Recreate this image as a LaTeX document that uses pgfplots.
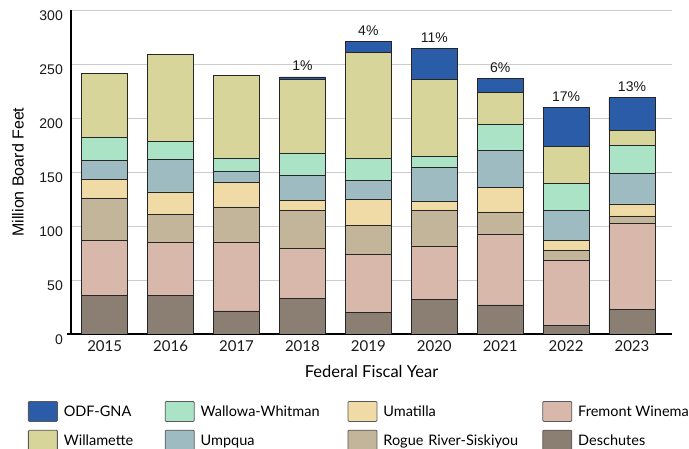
\documentclass[border=0pt]{standalone}
\usepackage{pgfplots}
\pgfplotsset{compat=1.18}
\usepackage{pgfplotstable}
\usepackage{fontspec}
\setmainfont{Lato}
\newfontfamily\arialfont{Liberation Sans}
\definecolor{cODF}{HTML}{2A5CA8}
\definecolor{cWil}{HTML}{D8D59B}
\definecolor{cWal}{HTML}{ABE3C7}
\definecolor{cUmp}{HTML}{9EBBC2}
\definecolor{cUma}{HTML}{F0DBA6}
\definecolor{cRog}{HTML}{C2B59A}
\definecolor{cFre}{HTML}{D9B8AC}
\definecolor{cDes}{HTML}{8B7E73}
\pgfplotstableread{
x des fre rog uma ump wal wil
0 35.8 51.2 39.0 17.0 18.0 21.0 59.0
1 35.5 49.7 25.6 20.7 30.2 17.0 79.9
2 21.3 63.9 32.4 22.5 10.5 12.4 76.5
3 33.0 46.6 34.6 9.6 23.4 20.1 68.5
4 20.0 53.8 27.1 23.5 17.9 20.0 98.5
5 31.8 49.7 32.7 8.9 30.9 10.8 70.7
6 26.9 65.7 20.4 22.5 34.5 23.8 30.0
7 8.0 60.2 9.3 8.9 28.1 25.3 33.7
8 22.8 79.4 7.1 11.1 28.1 25.9 14.2
}\datatable
\begin{document}
\begin{tikzpicture}
\begin{axis}[
  at={(71bp,115bp)}, anchor=south west,
  scale only axis, width=601bp, height=324bp,
  xmin=-0.511, xmax=8.607, ymin=0, ymax=300,
  ybar stacked, bar width=0.698,
  /pgf/number format/assume math mode=true,
  xtick={0,1,2,3,4,5,6,7,8},
  xticklabels={2015,2016,2017,2018,2019,2020,2021,2022,2023},
  ytick={0,50,...,300},
  major tick length=0pt,
  axis x line*=bottom, axis y line*=left,
  axis line style={black, line width=1.2bp, -},
  x axis line style={shorten <=-4bp},
  ymajorgrids, grid style={black!20, line width=0.8bp},
  xticklabel style={font=\fontsize{15bp}{18bp}\selectfont, inner sep=0pt, anchor=north, yshift=-6.5bp, text=black!90},
  yticklabel style={font=\arialfont\fontsize{14bp}{16bp}\selectfont, inner sep=0pt, anchor=east, xshift=-8bp, yshift=-5.4bp, text=black!90},
  xlabel={Federal Fiscal Year},
  xlabel style={at={(axis description cs:0.5,0)}, anchor=base, yshift=-43.3bp, font=\fontsize{16.5bp}{19bp}\selectfont, inner sep=0pt},
  ylabel={Million Board Feet},
  ylabel style={at={(axis description cs:-0.079,0.5)}, anchor=base, rotate=0, font=\arialfont\fontsize{16bp}{19bp}\selectfont, inner sep=0pt},
  every axis plot/.append style={draw=black!85, line width=0.8bp},
  legend image code/.code={\draw[#1, draw=black!65, line width=0.8bp, rounded corners=1bp] (0bp,-5bp) rectangle (29bp,15bp);},
  legend columns=4,
  legend style={
    at={(axis description cs:-0.07155,-0.2068)}, anchor=north west,
    draw=none, fill=none, inner sep=0pt, outer sep=0pt,
    column sep=0pt, row sep=8bp,
    nodes={inner sep=0pt, text depth=0pt, anchor=base west, font=\fontsize{14.5bp}{17bp}\selectfont},
    cells={anchor=base west},
    /tikz/every odd column/.append style={column sep=6bp},
    /tikz/column 2/.style={nodes={text width=101bp}},
    /tikz/column 4/.style={nodes={text width=147bp}},
    /tikz/column 6/.style={nodes={text width=159bp}},
  },
]
\addplot[fill=cDes, forget plot] table[x=x,y=des]{\datatable};
\addplot[fill=cFre, forget plot] table[x=x,y=fre]{\datatable};
\addplot[fill=cRog, forget plot] table[x=x,y=rog]{\datatable};
\addplot[fill=cUma, forget plot] table[x=x,y=uma]{\datatable};
\addplot[fill=cUmp, forget plot] table[x=x,y=ump]{\datatable};
\addplot[fill=cWal, forget plot] table[x=x,y=wal]{\datatable};
\addplot[fill=cWil, forget plot] table[x=x,y=wil]{\datatable};
\addplot[fill=cODF, forget plot, point meta=explicit symbolic, nodes near coords,
  visualization depends on=rawy \as \rawy,
  every node near coord/.append style={anchor=south, inner sep=0pt, yshift={(5.5+0.54*\rawy)*1bp}, font=\arialfont\fontsize{14bp}{16bp}\selectfont, text=black!90}]
  coordinates {(0,0) [{}] (1,0) [{}] (2,0) [{}] (3,2.2) [1\%] (4,10.2) [4\%] (5,28.7) [11\%] (6,13.2) [6\%] (7,36.4) [17\%] (8,30.2) [13\%]};
\addlegendimage{fill=cODF}\addlegendentry{ODF-GNA}
\addlegendimage{fill=cWal}\addlegendentry{Wallowa-Whitman}
\addlegendimage{fill=cUma}\addlegendentry{Umatilla}
\addlegendimage{fill=cFre}\addlegendentry{Fremont Winema}
\addlegendimage{fill=cWil}\addlegendentry{Willamette}
\addlegendimage{fill=cUmp}\addlegendentry{Umpqua}
\addlegendimage{fill=cRog}\addlegendentry{Rogue River-Siskiyou}
\addlegendimage{fill=cDes}\addlegendentry{Deschutes}
\end{axis}
\pgfresetboundingbox
\path[use as bounding box] (0,0) rectangle (689bp,449bp);
\end{tikzpicture}
\end{document}
